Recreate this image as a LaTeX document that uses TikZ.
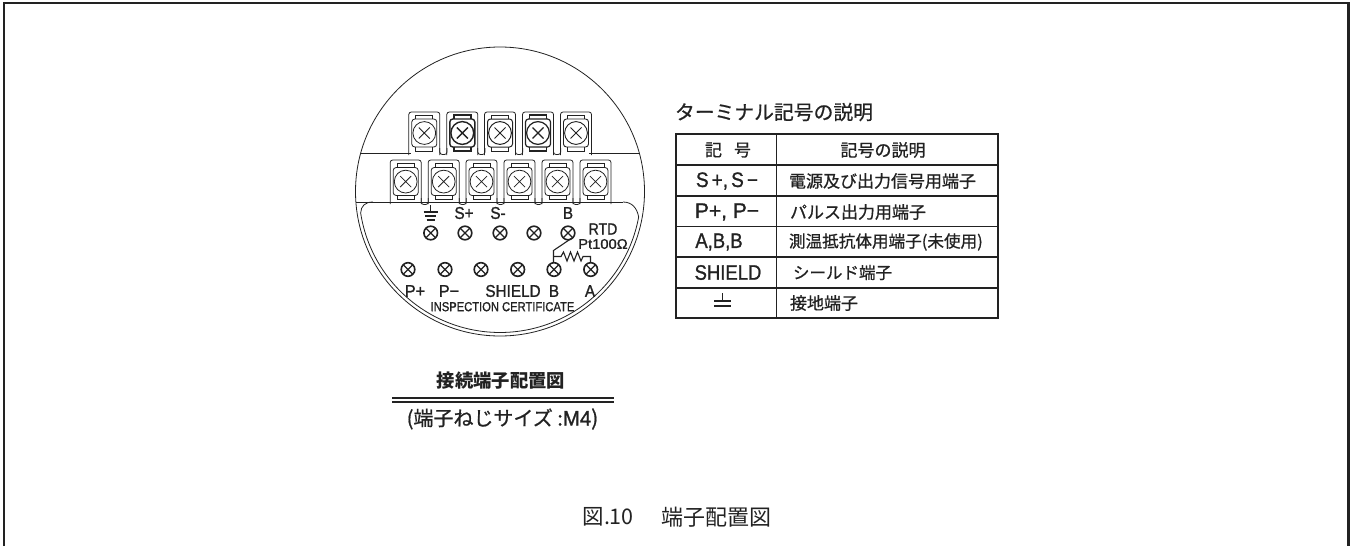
\documentclass[tikz,border=0pt]{standalone}
\usepackage{graphicx}
\usepackage{fontspec}
\setmainfont{Liberation Sans}
\newfontfamily\lat[FakeBold=1.2]{Liberation Sans}
\newfontfamily\cjk[FakeBold=0.8]{Noto Sans CJK JP}
\newfontfamily\cjkb{Noto Sans CJK JP}
\newcommand{\fsz}[1]{\fontsize{#1pt}{#1pt}\selectfont}
\newcommand{\lb}[3]{\fsz{#1}\scalebox{#2}[1]{\lat #3}}
\definecolor{ink}{HTML}{222222}
\tikzset{
  thin line/.style={draw=ink,line width=0.8pt},
  med line/.style={draw=ink,line width=1.1pt},
  heavy line/.style={draw=ink,line width=1.6pt},
  txt/.style={text=ink,inner sep=0pt,outer sep=0pt},
  jpl/.style={txt,anchor=west,font=\cjk\fsz{17}},
}
\begin{document}
\begin{tikzpicture}[x=1pt,y=-1pt]
\useasboundingbox (0,0) rectangle (1354,546);
% frame
\draw[draw=ink,line width=2.6pt] (4,546) -- (4,3) -- (1348.5,3) -- (1348.5,546);
% body
\draw[thin line] (500,191.5) circle[radius=144.5pt];
\draw[thin line] (373,202) .. controls (365,202) and (361,206) .. (360.65,213)
  -- plot[domain=171.2:10.4,samples=90] ({500+141*cos(\x)},{191.5+141*sin(\x)})
  .. controls (637,208) and (632,202) .. (623,202);
\draw[thin line] (356,202) -- (623,202);
\draw[thin line] (360.7,153) -- (411,153);
\draw[thin line] (589,153) -- (639.3,153);
% top row terminals
\foreach \cx/\w in {424.3/0.8,462.3/1.4,500/1.0,538/1.2,576/0.9}{
  \begin{scope}[line width=\w pt,draw=ink]
  \draw[thin line,rounded corners=2.5pt] (\cx-15.5,155) -- (\cx-15.5,112) -- (\cx+15.5,112) -- (\cx+15.5,155);
  \draw[rounded corners=3pt] (\cx-12.5,119) rectangle (\cx+12.5,147);
  \draw (\cx-8.5,119) -- (\cx-8.5,115) -- (\cx+8.5,115) -- (\cx+8.5,119);
  \draw (\cx-8.5,147) -- (\cx-8.5,151) -- (\cx+8.5,151) -- (\cx+8.5,147);
  \draw[fill=white] (\cx,133) circle[radius=11.4pt];
  \draw (\cx-5.5,127.5) -- (\cx+5.5,138.5) (\cx-5.5,138.5) -- (\cx+5.5,127.5);
  \end{scope}
}
\foreach \cx in {424.3,462.3,500,538}{
  \draw[thin line,rounded corners=2.5pt] (\cx+15.5,148) -- (\cx+15.5,154.5) -- (\cx+22.7,154.5) -- (\cx+22.7,148);
}
% lower row terminals
\foreach \cx in {405.7,443.7,481.5,519.5,557.5,595.5}{
  \begin{scope}[line width=0.8pt,draw=ink]
  \draw[thin line,rounded corners=2.5pt] (\cx-15.5,204) -- (\cx-15.5,160) -- (\cx+15.5,160) -- (\cx+15.5,204);
  \draw[rounded corners=3pt] (\cx-12.5,167.5) rectangle (\cx+12.5,195.5);
  \draw (\cx-8.5,167.5) -- (\cx-8.5,163.5) -- (\cx+8.5,163.5) -- (\cx+8.5,167.5);
  \draw (\cx-8.5,195.5) -- (\cx-8.5,199.5) -- (\cx+8.5,199.5) -- (\cx+8.5,195.5);
  \draw[fill=white] (\cx,181.6) circle[radius=11.4pt];
  \draw (\cx-5.5,176.1) -- (\cx+5.5,187.1) (\cx-5.5,187.1) -- (\cx+5.5,176.1);
  \end{scope}
}
\foreach \cx in {405.7,443.7,481.5,519.5,557.5}{
  \draw[thin line,rounded corners=2.5pt] (\cx+15.5,198) -- (\cx+15.5,204.5) -- (\cx+22.5,204.5) -- (\cx+22.5,198);
}
% small screws
\foreach \cx/\cy in {430.7/233,465/233,500/233,534/233,568/233,408/269.5,445/269.5,481/269.5,517.7/269.5,554/269.5,590.7/269.5}{
  \draw[heavy line] (\cx,\cy) circle[radius=6.8pt];
  \draw[heavy line,line width=1.3pt] (\cx-4.6,\cy-4.6) -- (\cx+4.6,\cy+4.6) (\cx-4.6,\cy+4.6) -- (\cx+4.6,\cy-4.6);
}
% ground on plate
\draw[med line] (430.7,205) -- (430.7,212)
  (423.7,212) -- (437.7,212) (425.2,216) -- (436.2,216) (426.7,220) -- (434.7,220);
% RTD wiring
\draw[med line] (572,238) -- (553.5,250.5) -- (553.5,262.5);
\draw[med line] (553.5,256.5) -- (561,256.5) -- (563.5,252) -- (567,261) -- (570.5,252) -- (574,261) -- (577.5,252) -- (581,261) -- (583,256.5) -- (590.5,256.5) -- (590.5,262.5);
% plate labels
\node[txt] (lbSp) at (464,213) {\lb{17}{.9}{S+}};
\node[txt] (lbSm) at (498,213) {\lb{17}{.9}{S-}};
\node[txt] (lbB) at (568,213) {\lb{17}{.9}{B}};
\node[txt] (lbRTD) at (603,229) {\lb{16}{.88}{RTD}};
\node[txt] (lbPt) at (603,244) {\lb{14}{1.05}{Pt100Ω}};
\node[txt] (lbPp) at (415,291) {\lb{17}{.95}{P+}};
\node[txt] (lbPm) at (449,291) {\lb{17}{.95}{P−}};
\node[txt] (lbSH) at (513,291) {\lb{17}{.9}{SHIELD}};
\node[txt] (lbB2) at (554,291) {\lb{17}{.9}{B}};
\node[txt] (lbA) at (590,291) {\lb{17}{.9}{A}};
\node[txt] (lbIC) at (502.5,306.7) {\lb{13}{.86}{INSPECTION CERTIFICATE}};
% caption under circle
\node[txt,font=\cjkb\bfseries\fsz{18.3}] (capA) at (501,381) {接続端子配置図};
\draw[med line] (392,398) -- (614,398) (392,402) -- (614,402);
\node[txt,font=\cjk\fsz{20}] (capB) at (502.5,419) {(端子ねじサイズ :\lb{21}{.97}{M4})};
% heading
\node[txt,anchor=west,font=\cjk\fsz{19.8}] (head) at (675,112) {ターミナル記号の説明};
% table
\draw[med line] (676,134) rectangle (998,318);
\draw[med line] (776.7,134) -- (776.7,318);
\foreach \y in {165,196,226.7,257,288}{
  \draw[med line] (676,\y) -- (998,\y);
}
\node[txt,font=\cjk\fsz{17}] (h1) at (728,150) {記\hspace{12pt}号};
\node[txt,font=\cjk\fsz{17}] (h2) at (883,150) {記号の説明};
\node[txt] (r1) at (727,181) {\lb{21}{.9}{S\,+,\,S\,−}};
\node[txt] (r2) at (727,212) {\lb{21}{1}{P+, P−}};
\node[txt] (r3) at (719,242) {\lb{21}{.88}{A,B,B}};
\node[txt] (r4) at (728,272.5) {\lb{21}{.88}{SHIELD}};
\draw[med line] (722.7,293) -- (722.7,301) (714,301) -- (731,301) (714,306) -- (731,306);
\node[jpl] (d1) at (789,181) {電源及び出力信号用端子};
\node[jpl] (d2) at (790,212) {パルス出力用端子};
\node[jpl,font=\cjk\fsz{16.6}] (d3) at (789,242) {測温抵抗体用端子(未使用)};
\node[jpl,font=\cjk\fsz{16.5}] (d4) at (793,272.5) {シールド端子};
\node[jpl] (d5) at (790,303) {接地端子};
% figure caption
\node[txt,anchor=west,font=\cjkb\fsz{21.5}] (fig) at (582.5,516.7) {図.10};
\node[txt,anchor=west,font=\cjkb\fsz{22}] (fig2) at (661.7,516.7) {端子配置図};
\end{tikzpicture}
\end{document}
